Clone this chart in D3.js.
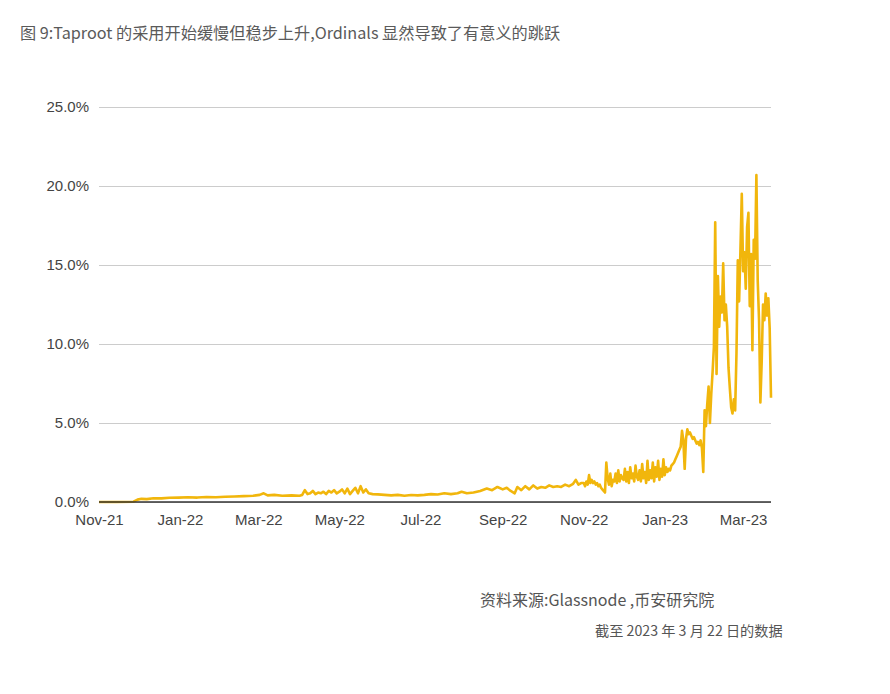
<!DOCTYPE html>
<html><head><meta charset="utf-8">
<script src="https://cdn.jsdelivr.net/npm/d3@7"></script>
<style>
html,body{margin:0;padding:0;background:#fff;}
svg{display:block;}
</style>
</head><body>
<svg id="c" width="890" height="694"></svg>
<script>
const titleText = "图 9:Taproot 的采用开始缓慢但稳步上升,Ordinals 显然导致了有意义的跳跃";
const sourceText = "资料来源:Glassnode ,币安研究院";
const noteText = "截至 2023 年 3 月 22 日的数据";

const yTicks = [0, 5, 10, 15, 20, 25];
const xTickDates = ["2021-11-01","2022-01-01","2022-03-01","2022-05-01","2022-07-01","2022-09-01","2022-11-01","2023-01-01","2023-03-01"];
const xTickLabels = ["Nov-21","Jan-22","Mar-22","May-22","Jul-22","Sep-22","Nov-22","Jan-23","Mar-23"];

// Taproot adoption (% of transactions)
const dates = [
 "2021-11-01","2021-11-14","2021-11-27","2021-11-30",
 "2021-12-03","2021-12-07","2021-12-12","2021-12-18","2021-12-24","2021-12-31",
 "2022-01-07","2022-01-14","2022-01-21","2022-01-28",
 "2022-02-04","2022-02-11","2022-02-18","2022-02-25",
 "2022-03-02","2022-03-05","2022-03-08","2022-03-13","2022-03-19","2022-03-26",
 "2022-04-01","2022-04-03","2022-04-05","2022-04-07","2022-04-09","2022-04-11","2022-04-13","2022-04-15","2022-04-17","2022-04-19","2022-04-21","2022-04-23","2022-04-25","2022-04-27","2022-04-29",
 "2022-05-01","2022-05-03","2022-05-05","2022-05-07","2022-05-09","2022-05-11","2022-05-13","2022-05-15","2022-05-17","2022-05-19","2022-05-21","2022-05-23","2022-05-26","2022-05-30",
 "2022-06-04","2022-06-09","2022-06-14","2022-06-19","2022-06-24","2022-06-29",
 "2022-07-04","2022-07-09","2022-07-14","2022-07-19","2022-07-24","2022-07-29",
 "2022-08-01","2022-08-05","2022-08-10","2022-08-15","2022-08-20","2022-08-24","2022-08-28",
 "2022-09-01","2022-09-04","2022-09-07","2022-09-10","2022-09-12","2022-09-15","2022-09-18","2022-09-21","2022-09-24","2022-09-27","2022-09-30",
 "2022-10-03","2022-10-06","2022-10-09","2022-10-12","2022-10-15","2022-10-18","2022-10-21","2022-10-24","2022-10-26","2022-10-28","2022-10-30",
 "2022-11-01","2022-11-02","2022-11-03","2022-11-04","2022-11-05","2022-11-06","2022-11-07","2022-11-08","2022-11-09","2022-11-10",
 "2022-11-11","2022-11-12","2022-11-13","2022-11-14","2022-11-15","2022-11-16","2022-11-17","2022-11-18","2022-11-19","2022-11-20",
 "2022-11-21","2022-11-22","2022-11-23","2022-11-24","2022-11-25","2022-11-26","2022-11-27","2022-11-28","2022-11-29","2022-11-30",
 "2022-12-01","2022-12-02","2022-12-03","2022-12-04","2022-12-05","2022-12-06","2022-12-07","2022-12-08","2022-12-09","2022-12-10",
 "2022-12-11","2022-12-12","2022-12-13","2022-12-14","2022-12-15","2022-12-16","2022-12-17","2022-12-18","2022-12-19","2022-12-20",
 "2022-12-21","2022-12-22","2022-12-23","2022-12-24","2022-12-25","2022-12-26","2022-12-27","2022-12-28","2022-12-29","2022-12-30","2022-12-31",
 "2023-01-01","2023-01-02","2023-01-03","2023-01-04","2023-01-05","2023-01-06","2023-01-07","2023-01-08","2023-01-09","2023-01-10",
 "2023-01-11","2023-01-12","2023-01-13","2023-01-14","2023-01-15","2023-01-16","2023-01-17","2023-01-18","2023-01-19","2023-01-20",
 "2023-01-21","2023-01-22","2023-01-23","2023-01-24","2023-01-25","2023-01-26","2023-01-27","2023-01-28","2023-01-29","2023-01-30","2023-01-31",
 "2023-02-01","2023-02-02","2023-02-03","2023-02-04","2023-02-05","2023-02-06","2023-02-07","2023-02-08","2023-02-09","2023-02-10",
 "2023-02-11","2023-02-12","2023-02-13","2023-02-14","2023-02-15","2023-02-16","2023-02-17","2023-02-18","2023-02-19","2023-02-20",
 "2023-02-21","2023-02-22","2023-02-23","2023-02-24","2023-02-25","2023-02-26","2023-02-27","2023-02-28",
 "2023-03-01","2023-03-02","2023-03-03","2023-03-04","2023-03-05","2023-03-06","2023-03-07","2023-03-08","2023-03-09","2023-03-10",
 "2023-03-11","2023-03-12","2023-03-13","2023-03-14","2023-03-15","2023-03-16","2023-03-17","2023-03-18","2023-03-19","2023-03-20",
 "2023-03-21","2023-03-22"
];
const values = [
 0, 0, 0.02, 0.15,
 0.2, 0.18, 0.24, 0.23, 0.27, 0.28,
 0.3, 0.28, 0.32, 0.3,
 0.33, 0.35, 0.37, 0.4,
 0.45, 0.55, 0.42, 0.45, 0.4, 0.42,
 0.4, 0.45, 0.75, 0.5, 0.55, 0.7, 0.5, 0.6, 0.55, 0.65, 0.5, 0.7, 0.6, 0.75, 0.55,
 0.65, 0.8, 0.55, 0.85, 0.5, 0.7, 0.9, 0.55, 1.0, 0.6, 0.8, 0.55, 0.5, 0.48,
 0.45, 0.42, 0.45, 0.4, 0.44, 0.42,
 0.45, 0.5, 0.47, 0.55, 0.5, 0.55,
 0.65, 0.55, 0.6, 0.7, 0.85, 0.75, 0.95,
 0.8, 0.9, 0.7, 0.55, 0.95, 0.75, 1.0, 0.8, 1.05, 0.85, 0.95,
 0.9, 1.05, 0.95, 1.0, 0.95, 1.1, 1.0, 1.15, 1.4, 1.1, 1.2,
 1.2, 1.0, 1.3, 1.1, 1.7, 1.2, 1.4, 1.2, 1.3, 1.1,
 1.2, 1.0, 1.1, 0.9, 0.8, 0.7, 0.6, 2.5, 1.5, 1.1,
 1.8, 1.0, 1.4, 1.3, 1.8, 1.2, 2.0, 1.3, 1.7, 1.5,
 1.4, 2.1, 1.3, 1.9, 1.2, 2.2, 1.5, 1.8, 1.3, 2.3,
 1.6, 1.4, 2.0, 1.3, 2.4, 1.5, 1.9, 1.2, 2.6, 1.4,
 2.0, 1.5, 2.5, 1.3, 2.2, 1.6, 2.6, 1.4, 2.1, 1.6, 2.7,
 1.7, 2.2, 1.9, 2.1, 2.0, 2.3, 2.4, 2.5, 2.7, 2.9,
 3.1, 3.3, 3.5, 4.5, 3.9, 2.1, 4.0, 4.6, 4.3, 4.4,
 4.2, 4.0, 4.1, 3.9, 3.7, 3.8, 3.6, 3.9, 3.4, 1.9, 5.8,
 4.8, 6.2, 7.3, 5.0, 6.8, 8.2, 9.8, 17.7, 8.1, 14.3,
 11.1, 13.0, 12.0, 15.1, 11.5, 12.5, 11.1, 8.5, 7.2, 6.0,
 5.6, 6.5, 5.8, 9.4, 15.3, 12.7, 16.0, 19.5,
 14.6, 15.8, 13.5, 17.4, 18.3, 12.4, 15.7, 9.6, 16.6, 15.4,
 20.7, 14.0, 11.5, 6.3, 8.9, 12.5, 11.5, 13.2, 11.8, 12.9,
 11.0, 6.6
];

const parse = d3.timeParse("%Y-%m-%d");
const data = dates.map((d, i) => ({date: parse(d), v: values[i]}));

const svg = d3.select("#c");
svg.append("rect").attr("width", 890).attr("height", 694).attr("fill", "#fff");

const x = d3.scaleTime().domain([parse("2021-11-01"), parse("2023-03-22")]).range([99, 771]);
const y = d3.scaleLinear().domain([0, 25]).range([502, 107]);

// title
svg.append("text").attr("x", 20).attr("y", 39)
  .attr("font-family", "'Noto Sans CJK SC', sans-serif").attr("font-size", 16.2)
  .attr("fill", "#5a5a5a").text(titleText);

// gridlines
const yAxis = d3.axisLeft(y).tickValues(yTicks).tickSize(-(771 - 99)).tickPadding(10)
  .tickFormat(d => d.toFixed(1) + "%");
const gy = svg.append("g").attr("transform", "translate(99,0)").call(yAxis);
gy.select(".domain").remove();
gy.selectAll(".tick line").attr("stroke", "#cccccc").attr("stroke-width", 1);
gy.selectAll(".tick text").attr("font-family", "'Liberation Sans', Arial, sans-serif")
  .attr("font-size", 15).attr("fill", "#444");

// x axis
const xAxis = d3.axisBottom(x).tickValues(xTickDates.map(parse)).tickSize(0).tickPadding(12)
  .tickFormat((d, i) => xTickLabels[i]);
const gx = svg.append("g").attr("transform", "translate(0,502)").call(xAxis);
gx.select(".domain").remove();
gx.selectAll(".tick text").attr("font-family", "'Liberation Sans', Arial, sans-serif")
  .attr("font-size", 15).attr("fill", "#444");

// line
const line = d3.line().x(d => x(d.date)).y(d => y(d.v));
svg.append("path").datum(data).attr("d", line)
  .attr("fill", "none").attr("stroke", "#f1b60c").attr("stroke-width", 2.6)
  .attr("stroke-linejoin", "round");

// baseline
svg.append("line").attr("x1", 99).attr("x2", 771).attr("y1", y(0)).attr("y2", y(0))
  .attr("stroke", "#333").attr("stroke-width", 1.3);

// footer
svg.append("text").attr("x", 480).attr("y", 606)
  .attr("font-family", "'Noto Sans CJK SC', sans-serif").attr("font-size", 16)
  .attr("fill", "#555").text(sourceText);
svg.append("text").attr("x", 595).attr("y", 636)
  .attr("font-family", "'Noto Sans CJK SC', sans-serif").attr("font-size", 14.2)
  .attr("fill", "#555").text(noteText);
</script>
</body></html>
